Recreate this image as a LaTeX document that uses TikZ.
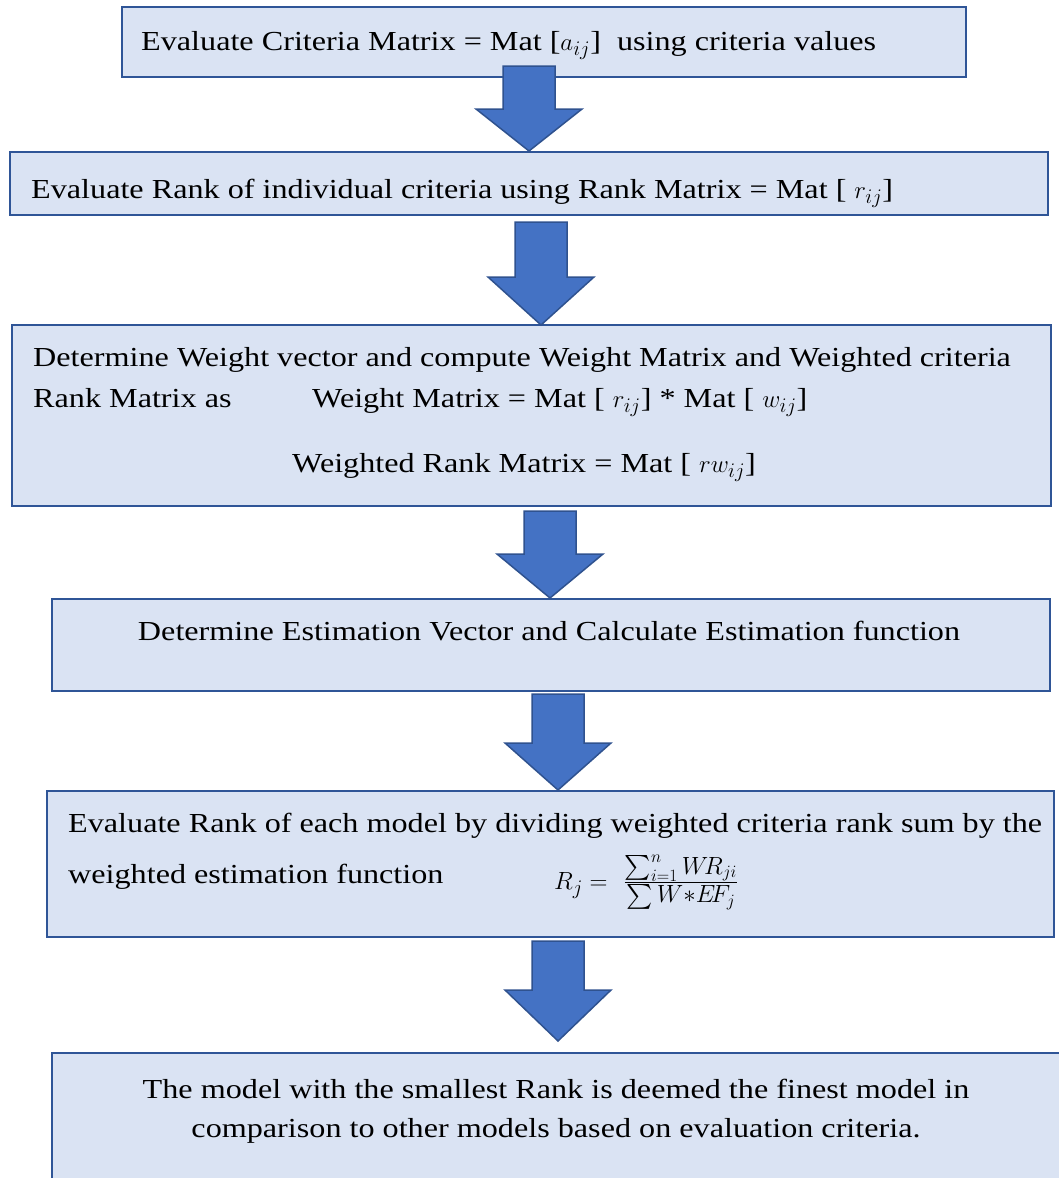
\documentclass[tikz,border=0pt]{standalone}
\usepackage{amsmath}
\usepackage{fontspec}
\setmainfont{Liberation Serif}[FakeStretch=1.17]
\definecolor{boxfill}{HTML}{DAE3F3}
\definecolor{boxline}{HTML}{2F5597}
\definecolor{arrfill}{HTML}{4472C4}
\definecolor{arrline}{HTML}{2F528F}
\newcommand\blockarr[6]{% cx, top, headstart, tip, shaft half, head half
  \filldraw[arr] (#1-#5,#2) -- (#1+#5,#2) -- (#1+#5,#3) -- (#1+#6,#3) -- (#1,#4)
    -- (#1-#6,#3) -- (#1-#5,#3) -- cycle;}
\begin{document}
\begin{tikzpicture}[x=1pt,y=-1pt,
  box/.style={draw=boxline,fill=boxfill,line width=2pt},
  arr/.style={draw=arrline,fill=arrfill,line width=1.5pt,line join=miter},
  txt/.style={inner sep=0pt,anchor=base west,font=\fontsize{27.5}{33}\selectfont},
  ctxt/.style={inner sep=0pt,anchor=base,font=\fontsize{27.5}{33}\selectfont}]
\useasboundingbox (0,0) rectangle (1059,1178);
% boxes
\draw[box] (122,7) rectangle (966,77);
\draw[box] (10,152) rectangle (1048,215);
\draw[box] (12,325) rectangle (1051,506);
\draw[box] (52,599) rectangle (1050,691);
\draw[box] (47,791) rectangle (1054,937);
\draw[box] (52,1053) rectangle (1075,1195);
% arrows
\blockarr{529}{66}{109}{151}{26}{53}
\blockarr{541}{222}{277}{325}{26}{53}
\blockarr{550}{511}{554}{598}{26}{53}
\blockarr{558}{694}{743}{790}{26}{53}
\blockarr{558}{941}{990}{1041}{26}{53}
% texts
\node[txt] (t1) at (141,50) {Evaluate Criteria Matrix = Mat [$a_{ij}$]\ \ using criteria values};
\node[txt] (t2) at (31,198) {Evaluate Rank of individual criteria using Rank Matrix = Mat [ $r_{ij}$]};
\node[txt] (t3a) at (33,366) {Determine Weight vector and compute Weight Matrix and Weighted criteria};
\node[txt] (t3b) at (33,407) {Rank Matrix as};
\node[txt] (t3c) at (312,407) {Weight Matrix = Mat [ $r_{ij}$] * Mat [ $w_{ij}$]};
\node[txt] (t3d) at (292,472) {Weighted Rank Matrix = Mat [ $rw_{ij}$]};
\node[ctxt] (t4) at (549,640) {Determine Estimation Vector and Calculate Estimation function};
\node[txt] (t5a) at (68,832) {Evaluate Rank of each model by dividing weighted criteria rank sum by the};
\node[txt] (t5b) at (68,883) {weighted estimation function};
\node[txt] (t5c) at (554,889) {$R_j =$\ \ {\fontsize{23}{28}\selectfont$\frac{\textstyle\sum_{i=1}^{n} W\!R_{ji}}{\textstyle\sum W{*}E\!F_j}$}};
\node[ctxt] (t6a) at (556,1098) {The model with the smallest Rank is deemed the finest model in};
\node[ctxt] (t6b) at (556,1137) {comparison to other models based on evaluation criteria.};
\end{tikzpicture}
\end{document}
